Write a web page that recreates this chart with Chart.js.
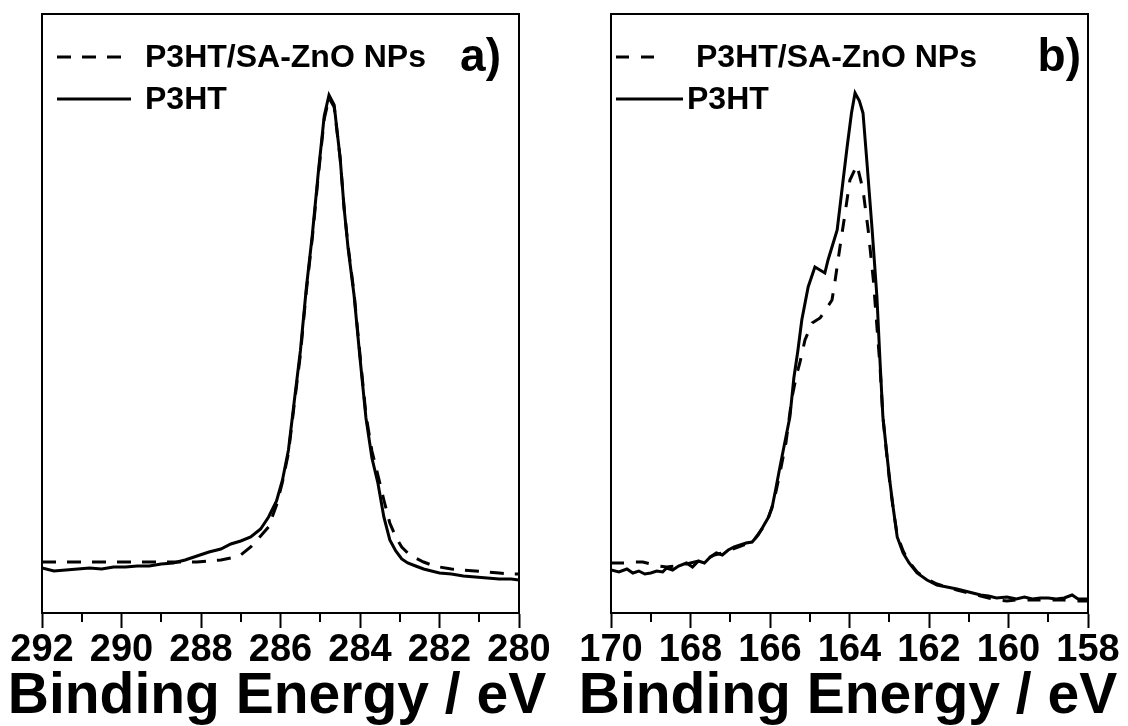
<!DOCTYPE html>
<html>
<head>
<meta charset="utf-8">
<title>XPS C1s / S2p</title>
<script src="https://cdn.jsdelivr.net/npm/chart.js@4.4.1/dist/chart.umd.min.js"></script>
<style>
    body { margin: 0; background: #fff; }
    #wrap { display: flex; width: 1128px; height: 726px; }
    canvas { display: block; }
</style>
</head>
<body>
<div id="wrap">
    <canvas id="chartA" width="564" height="726"></canvas>
    <canvas id="chartB" width="564" height="726"></canvas>
</div>
<script>
// panel a) C 1s
const aEnergy = [292.0, 291.7, 291.4, 291.1, 290.8, 290.5, 290.2, 289.9, 289.6, 289.3, 289.0, 288.7, 288.4, 288.1, 287.8, 287.5, 287.25, 287.0, 286.75, 286.5, 286.3, 286.1, 285.95, 285.8, 285.65, 285.5, 285.35, 285.2, 285.05, 284.9, 284.78, 284.65, 284.5, 284.4, 284.3, 284.15, 284.0, 283.85, 283.7, 283.55, 283.4, 283.25, 283.1, 282.95, 282.8, 282.6, 282.4, 282.2, 282.0, 281.7, 281.4, 281.1, 280.8, 280.5, 280.2, 280.0];
const aP3HT = [45, 42, 43, 44, 45, 44, 46, 46, 47, 47, 49, 50, 53, 57, 61, 64, 69, 72, 76, 84, 96, 112, 133, 163, 213, 262, 325, 378, 440, 497, 518, 508, 455, 405, 365, 318, 255, 195, 155, 130, 96, 73, 62, 54, 50, 47, 44, 42, 40, 39, 37, 36, 35, 34, 34, 33];
const aBlend = [51, 51, 51, 51, 51, 51, 51, 51, 51, 51, 51, 51, 51, 51, 52, 53, 55, 58, 66, 77, 86, 108, 131, 160, 210, 258, 322, 375, 437, 494, 515, 506, 455, 405, 367, 320, 258, 198, 162, 138, 113, 90, 76, 66, 60, 55, 51, 48, 46, 44, 43, 42, 41, 40, 39, 39];

// panel b) S 2p
const bP3HTEnergy = [170.0, 169.8, 169.6, 169.45, 169.3, 169.15, 169.0, 168.85, 168.7, 168.6, 168.45, 168.3, 168.1, 167.95, 167.8, 167.65, 167.5, 167.35, 167.2, 167.05, 166.9, 166.75, 166.6, 166.45, 166.3, 166.18, 166.05, 165.95, 165.85, 165.75, 165.62, 165.5, 165.4, 165.3, 165.2, 165.04, 164.87, 164.62, 164.54, 164.31, 164.16, 164.06, 163.95, 163.86, 163.75, 163.66, 163.56, 163.43, 163.31, 163.23, 163.16, 163.05, 162.98, 162.9, 162.8, 162.65, 162.5, 162.3, 162.05, 161.8, 161.55, 161.3, 161.1, 160.9, 160.7, 160.5, 160.3, 160.04, 159.8, 159.6, 159.4, 159.2, 159.0, 158.8, 158.6, 158.4, 158.25, 158.0];
const bP3HT = [43, 41, 44, 40, 42, 39, 40, 42, 41, 45, 43, 47, 50, 46, 52, 50, 56, 60, 58, 63, 66, 68, 70, 71, 78, 86, 95, 105, 125, 146, 172, 196, 235, 262, 293, 326, 346, 340, 353, 383, 433, 466, 500, 520, 512, 500, 450, 383, 316, 250, 196, 155, 130, 105, 76, 60, 50, 40, 33, 28, 26, 24, 22, 20, 18, 17, 15, 16, 14, 16, 14, 15, 15, 14, 15, 18, 14, 14];
const bBlendEnergy = [170.0, 169.8, 169.6, 169.4, 169.2, 169.0, 168.8, 168.6, 168.4, 168.2, 168.0, 167.8, 167.6, 167.4, 167.2, 167.0, 166.8, 166.6, 166.4, 166.2, 166.05, 165.9, 165.75, 165.6, 165.45, 165.32, 165.25, 165.12, 164.94, 164.74, 164.44, 164.36, 164.24, 164.11, 163.99, 163.81, 163.66, 163.53, 163.4, 163.23, 163.16, 163.05, 162.98, 162.9, 162.8, 162.65, 162.5, 162.3, 162.05, 161.8, 161.55, 161.3, 161.1, 160.9, 160.7, 160.5, 160.3, 160.04, 159.8, 159.6, 159.4, 159.2, 159.0, 158.8, 158.6, 158.4, 158.25, 158.0];
const bBlend = [50, 50, 50, 51, 51, 49, 47, 46, 47, 48, 50, 52, 54, 58, 60, 63, 66, 69, 73, 84, 94, 112, 140, 170, 215, 240, 250, 273, 290, 295, 313, 333, 366, 400, 433, 448, 423, 383, 333, 245, 196, 153, 128, 104, 78, 62, 51, 41, 34, 29, 26, 23, 21, 19, 17, 15, 13, 12, 13, 13, 13, 13, 13, 13, 13, 12, 12, 12];

const seriesNames = ['P3HT/SA-ZnO NPs', 'P3HT'];
const aTicks = [280, 282, 284, 286, 288, 290, 292];
const bTicks = [158, 160, 162, 164, 166, 168, 170];
const xTitle = 'Binding Energy / eV';

Chart.defaults.font.family = "'Liberation Sans', Arial, sans-serif";
Chart.defaults.color = '#000';

function toPoints(xs, ys) {
    return xs.map(function (x, i) { return { x: x, y: ys[i] }; });
}

// frame, minor ticks, legend, panel letter and axis title
// (the title is wider than the plot, so it is drawn here without a maxWidth)
function panelDecor(opt) {
    return {
        id: 'panelDecor',
        afterDraw: function (chart) {
            var ctx = chart.ctx;
            var area = chart.chartArea;
            var xs = chart.scales.x;
            ctx.save();
            ctx.strokeStyle = '#000';
            ctx.lineWidth = 2;
            ctx.setLineDash([]);
            ctx.strokeRect(area.left, area.top, area.right - area.left, area.bottom - area.top);

            // minor ticks on odd values
            for (var v = xs.min + 1; v < xs.max; v += 2) {
                var px = Math.round(xs.getPixelForValue(v));
                ctx.beginPath();
                ctx.moveTo(px, area.bottom);
                ctx.lineTo(px, area.bottom + 9);
                ctx.stroke();
            }

            // legend
            ctx.lineWidth = 3;
            ctx.font = "bold 32px 'Liberation Sans', Arial";
            ctx.fillStyle = '#000';
            ctx.textBaseline = 'middle';
            ctx.textAlign = 'left';
            opt.legend.forEach(function (item) {
                var ds = chart.data.datasets[item.dataset];
                ctx.setLineDash(ds.borderDash || []);
                ctx.beginPath();
                ctx.moveTo(item.x0, item.y);
                ctx.lineTo(item.x1, item.y);
                ctx.stroke();
                ctx.setLineDash([]);
                ctx.fillText(ds.label, item.tx, item.y + 1);
            });

            ctx.font = "bold 46px 'Liberation Sans', Arial";
            ctx.textAlign = 'right';
            ctx.textBaseline = 'alphabetic';
            ctx.fillText(opt.letter, opt.letterX, 71);

            ctx.font = "bold 57px 'Liberation Sans', Arial";
            ctx.textAlign = 'center';
            ctx.fillText(xTitle, opt.titleX, 713);
            ctx.restore();
        }
    };
}

function makeChart(id, min, max, blendPts, p3htPts, pad, decor, dash) {
    return new Chart(document.getElementById(id).getContext('2d'), {
        type: 'line',
        data: {
            datasets: [{
                label: seriesNames[0],
                data: blendPts,
                borderColor: '#000',
                borderWidth: 3,
                borderDash: dash,
                pointRadius: 0,
                tension: 0,
                fill: false
            }, {
                label: seriesNames[1],
                data: p3htPts,
                borderColor: '#000',
                borderWidth: 3,
                pointRadius: 0,
                tension: 0,
                fill: false
            }]
        },
        options: {
            responsive: false,
            animation: false,
            devicePixelRatio: 1,
            layout: { padding: pad },
            plugins: {
                legend: { display: false },
                tooltip: { enabled: false }
            },
            scales: {
                x: {
                    type: 'linear',
                    min: min,
                    max: max,
                    reverse: true,
                    afterFit: function (scale) { scale.height = 113; },
                    grid: {
                        drawOnChartArea: false,
                        drawTicks: true,
                        tickLength: 15,
                        tickWidth: 2,
                        tickColor: '#000'
                    },
                    border: { display: true, color: '#000', width: 2 },
                    ticks: {
                        stepSize: 2,
                        autoSkip: false,
                        maxRotation: 0,
                        padding: 4,
                        color: '#000',
                        font: { size: 38, weight: 'bold', lineHeight: 1 }
                    },
                    title: { display: false, text: xTitle }
                },
                y: {
                    display: false,
                    min: 0,
                    max: 599
                }
            }
        },
        plugins: [decor]
    });
}

var chartA = makeChart('chartA', aTicks[0], aTicks[aTicks.length - 1],
    toPoints(aEnergy, aBlend), toPoints(aEnergy, aP3HT),
    { left: 42, top: 14, right: 45, bottom: 0 },
    panelDecor({
        letter: 'a)', letterX: 501, titleX: 277,
        legend: [
            { dataset: 0, x0: 57, x1: 129, y: 57, tx: 145 },
            { dataset: 1, x0: 57, x1: 131, y: 99, tx: 145 }
        ]
    }), [14, 11]);

var chartB = makeChart('chartB', bTicks[0], bTicks[bTicks.length - 1],
    toPoints(bBlendEnergy, bBlend), toPoints(bP3HTEnergy, bP3HT),
    { left: 47, top: 14, right: 40, bottom: 0 },
    panelDecor({
        letter: 'b)', letterX: 517, titleX: 284,
        legend: [
            { dataset: 0, x0: 52, x1: 91, y: 57, tx: 132 },
            { dataset: 1, x0: 52, x1: 119, y: 99, tx: 123 }
        ]
    }), [13, 12]);
</script>
</body>
</html>
